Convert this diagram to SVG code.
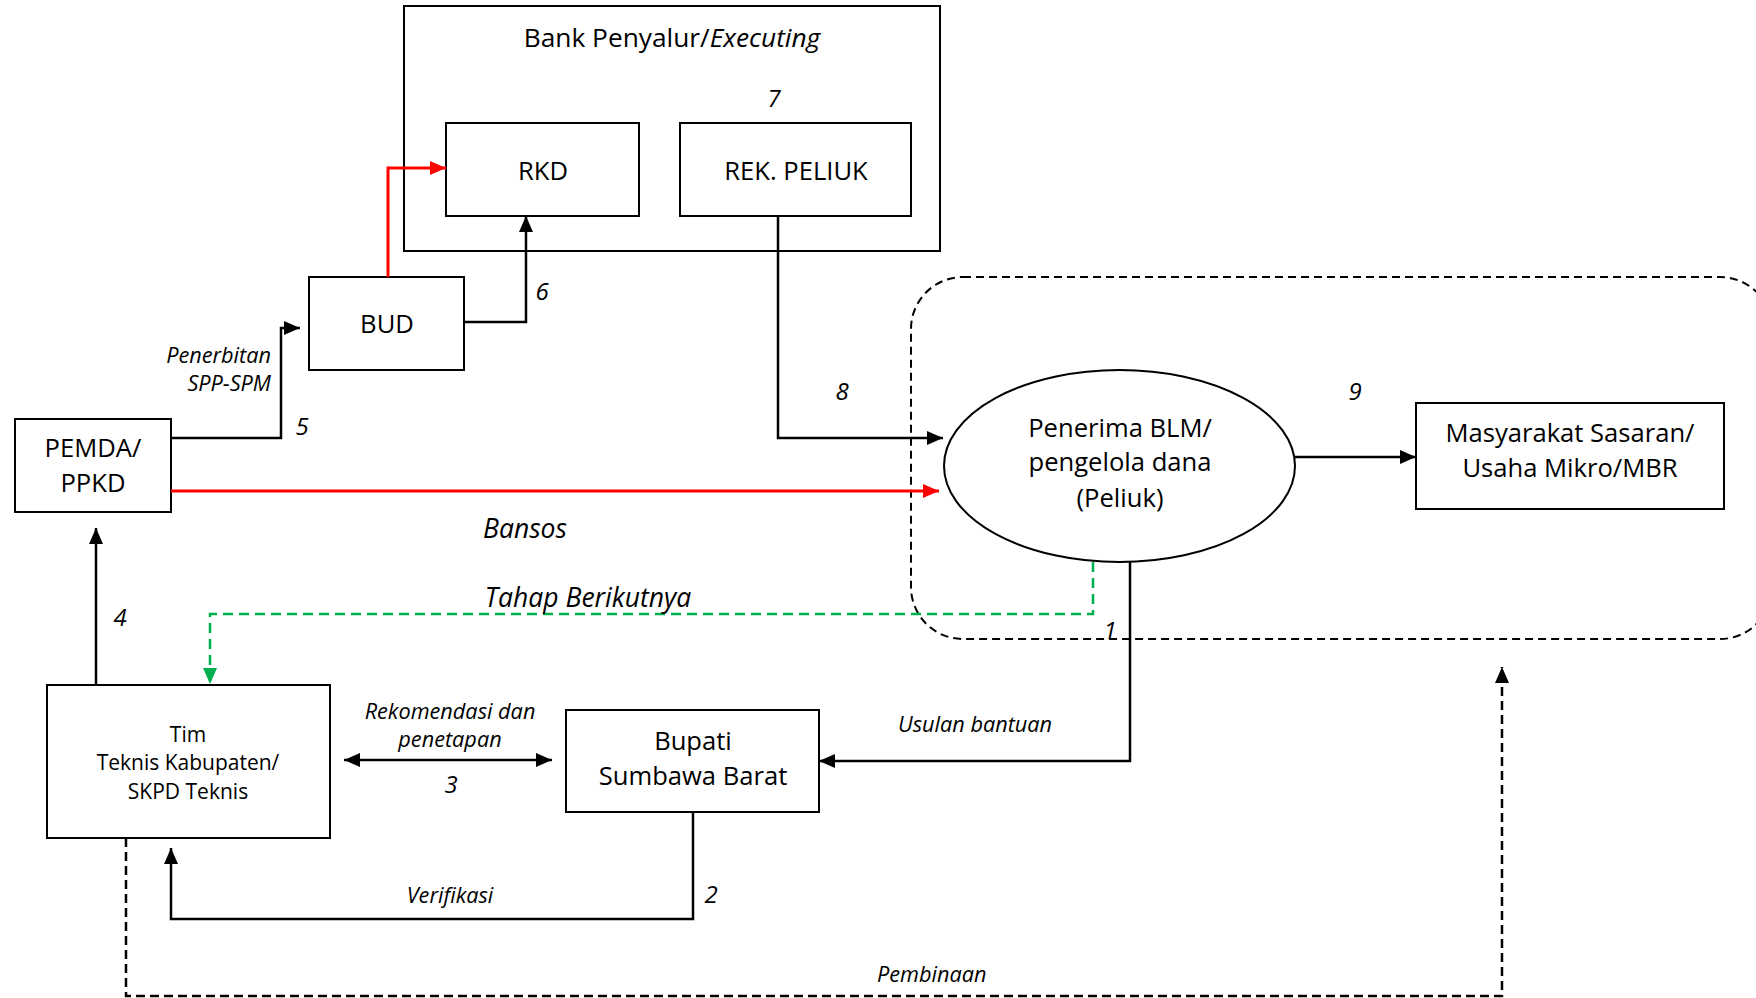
<svg xmlns="http://www.w3.org/2000/svg" width="1756" height="998" viewBox="0 0 1756 998">
<defs>
<style>
.box{fill:#fff;stroke:#000;stroke-width:2}
.t{font-family:"Open Sans","Liberation Sans",sans-serif;font-size:25.6px;fill:#000;text-anchor:middle}
.s{font-family:"Open Sans","Liberation Sans",sans-serif;font-size:21px;fill:#000;text-anchor:middle}
.si{font-family:"Open Sans","Liberation Sans",sans-serif;font-size:21.7px;font-style:italic;fill:#000;text-anchor:middle}
.bi{font-family:"Open Sans","Liberation Sans",sans-serif;font-size:26.5px;font-style:italic;fill:#000;text-anchor:middle}
.i{font-style:italic}
.n{font-family:"Open Sans","Liberation Sans",sans-serif;font-size:24px;font-style:italic;fill:#000;text-anchor:middle}
.k{fill:none;stroke:#000;stroke-width:2.5}
.r{fill:none;stroke:#FF0000;stroke-width:3}
.g{fill:none;stroke:#00B050;stroke-width:2.5;stroke-dasharray:10 6}
.d{fill:none;stroke:#000;stroke-width:2.5;stroke-dasharray:9 5}
</style>
<marker id="ak" markerUnits="userSpaceOnUse" markerWidth="16" markerHeight="16" refX="16" refY="7" orient="auto-start-reverse" viewBox="0 0 16 14"><path d="M0,0 L16,7 L0,14 z" fill="#000"/></marker>
<marker id="ar" markerUnits="userSpaceOnUse" markerWidth="16" markerHeight="16" refX="16" refY="7" orient="auto" viewBox="0 0 16 14"><path d="M0,0 L16,7 L0,14 z" fill="#FF0000"/></marker>
<marker id="ag" markerUnits="userSpaceOnUse" markerWidth="16" markerHeight="16" refX="16" refY="7" orient="auto" viewBox="0 0 16 14"><path d="M0,0 L16,7 L0,14 z" fill="#00B050"/></marker>
</defs>
<rect width="1756" height="998" fill="#fff"/>

<g id="peliuk-area">
<rect x="911" y="277" width="861" height="362" rx="52" ry="52" fill="none" stroke="#000" stroke-width="2" stroke-dasharray="8 5"/>
</g>

<g id="bank">
<rect class="box" x="404" y="6" width="536" height="245"/>
<text class="t" x="672" y="47" style="font-size:26.3px">Bank Penyalur/<tspan class="i">Executing</tspan></text>
</g>
<g id="rkd"><rect class="box" x="446" y="123" width="193" height="93"/><text class="t" x="543" y="180">RKD</text></g>
<g id="rek"><rect class="box" x="680" y="123" width="231" height="93"/><text class="t" x="796" y="180">REK. PELIUK</text></g>
<g id="bud"><rect class="box" x="309" y="277" width="155" height="93"/><text class="t" x="387" y="333">BUD</text></g>
<g id="pemda"><rect class="box" x="15" y="419" width="156" height="93"/><text class="t" x="93" y="457">PEMDA/</text><text class="t" x="93" y="492">PPKD</text></g>
<g id="penerima"><ellipse cx="1119.5" cy="466" rx="175.5" ry="96" fill="#fff" stroke="#000" stroke-width="2"/>
<text class="t" x="1120" y="437">Penerima BLM/</text><text class="t" x="1120" y="471">pengelola dana</text><text class="t" x="1120" y="507">(Peliuk)</text></g>
<g id="masyarakat"><rect class="box" x="1416" y="403" width="308" height="106"/><text class="t" x="1570" y="442">Masyarakat Sasaran/</text><text class="t" x="1570" y="477">Usaha Mikro/MBR</text></g>
<g id="tim"><rect class="box" x="47" y="685" width="283" height="153"/><text class="s" x="188" y="742">Tim</text><text class="s" x="188" y="770">Teknis Kabupaten/</text><text class="s" x="188" y="799">SKPD Teknis</text></g>
<g id="bupati"><rect class="box" x="566" y="710" width="253" height="102"/><text class="t" x="693" y="750">Bupati</text><text class="t" x="693" y="785">Sumbawa Barat</text></g>

<g id="connectors">
<polyline class="k" points="171,438 281,438 281,328 300,328" marker-end="url(#ak)"/>
<polyline class="k" points="464,322 526,322 526,216" marker-end="url(#ak)"/>
<polyline class="r" points="388,277 388,168 446,168" marker-end="url(#ar)"/>
<polyline class="k" points="778,216 778,438 943,438" marker-end="url(#ak)"/>
<line class="r" x1="171" y1="491" x2="939" y2="491" marker-end="url(#ar)"/>
<line class="k" x1="1295" y1="457" x2="1416" y2="457" marker-end="url(#ak)"/>
<polyline class="k" points="1130,562 1130,761 819,761" marker-end="url(#ak)"/>
<polyline class="k" points="693,812 693,919 171,919 171,848" marker-end="url(#ak)"/>
<line class="k" x1="344" y1="760" x2="552" y2="760" marker-start="url(#ak)" marker-end="url(#ak)"/>
<line class="k" x1="96" y1="685" x2="96" y2="528" marker-end="url(#ak)"/>
<polyline class="g" points="1093,562 1093,614 210,614 210,684" marker-end="url(#ag)"/>
<polyline class="d" points="126,838 126,996 1502,996 1502,667" marker-end="url(#ak)"/>
</g>

<g id="labels">
<text class="si" x="271" y="363" style="text-anchor:end">Penerbitan</text>
<text class="si" x="271" y="391" style="text-anchor:end">SPP-SPM</text>
<text class="bi" x="525" y="538">Bansos</text>
<text class="bi" x="588" y="607">Tahap Berikutnya</text>
<text class="si" x="450" y="719">Rekomendasi dan</text>
<text class="si" x="450" y="747">penetapan</text>
<text class="si" x="450" y="903">Verifikasi</text>
<text class="si" x="898" y="732" style="text-anchor:start">Usulan bantuan</text>
<text class="si" x="877" y="982" style="text-anchor:start">Pembinaan</text>
<text class="n" x="774" y="107">7</text>
<text class="n" x="542" y="300">6</text>
<text class="n" x="302" y="435">5</text>
<text class="n" x="842" y="400">8</text>
<text class="n" x="1355" y="400">9</text>
<text class="n" x="120" y="626">4</text>
<text class="n" x="451" y="793">3</text>
<text class="n" x="711" y="903">2</text>
<text class="n" x="1110" y="639">1</text>
</g>
</svg>
